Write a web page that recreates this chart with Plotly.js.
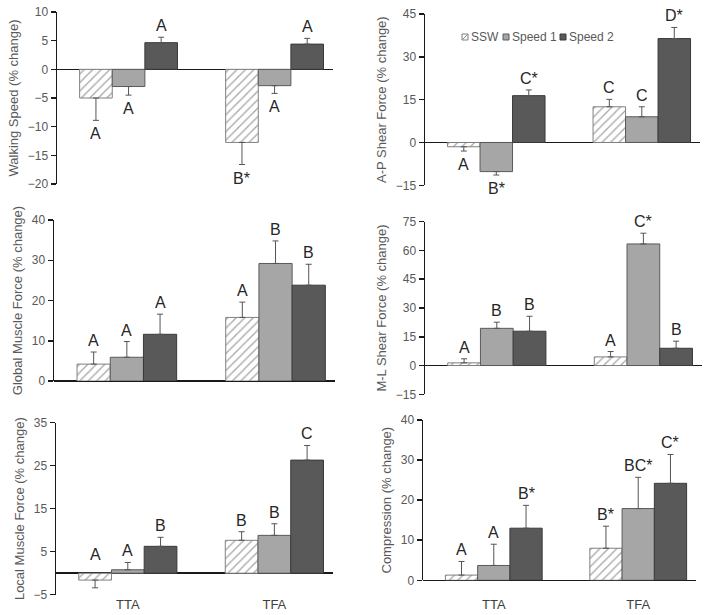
<!DOCTYPE html>
<html><head><meta charset="utf-8">
<script src="https://cdn.plot.ly/plotly-3.0.1.min.js"></script>
<style>html,body{margin:0;padding:0;background:#fff}#chart{width:714px;height:615px}</style>
</head><body><div id="chart"></div>
<script>
// ---------- DATA ----------
const groups = ['TTA', 'TFA'];
const series = ['SSW', 'Speed 1', 'Speed 2'];

// each array: [SSW, Speed 1, Speed 2], inner: [TTA, TFA]
const walkMeans  = [[-5.0, -12.75], [-3.0, -2.85], [4.65, 4.4]];
const walkErrs   = [[3.9, 3.85], [1.5, 1.35], [0.95, 1.0]];
const walkLabels = [['A', 'B*'], ['A', 'A'], ['A', 'A']];

const apMeans  = [[-1.5, 12.5], [-10.2, 9.0], [16.4, 36.4]];
const apErrs   = [[1.5, 2.6], [1.2, 3.5], [2.0, 3.9]];
const apLabels = [['A', 'C'], ['B*', 'C'], ['C*', 'D*']];

const globalMeans  = [[4.2, 15.8], [5.9, 29.2], [11.6, 23.8]];
const globalErrs   = [[3.0, 3.8], [3.9, 5.6], [5.0, 5.2]];
const globalLabels = [['A', 'A'], ['A', 'B'], ['A', 'B']];

const mlMeans  = [[1.4, 4.5], [19.4, 63.4], [17.9, 9.0]];
const mlErrs   = [[2.1, 2.8], [3.2, 5.6], [7.8, 3.7]];
const mlLabels = [['A', 'A'], ['B', 'C*'], ['B', 'B']];

const localMeans  = [[-1.6, 7.65], [0.8, 8.8], [6.25, 26.3]];
const localErrs   = [[1.8, 2.0], [1.7, 2.7], [2.1, 3.4]];
const localLabels = [['A', 'B'], ['A', 'B'], ['B', 'C']];
// negative bar whose letter sits above the zero line in the original
const localLabelAbove = [[true, false], [false, false], [false, false]];

const compMeans  = [[1.3, 8.0], [3.7, 17.9], [13.0, 24.2]];
const compErrs   = [[3.4, 5.5], [5.3, 7.8], [5.7, 7.2]];
const compLabels = [['A', 'B*'], ['A', 'BC*'], ['B*', 'C*']];

const yTitles = ['Walking Speed (% change)', 'A-P Shear Force (% change)', 'Global Muscle Force (% change)',
                 'M-L Shear Force (% change)', 'Local Muscle Force (% change)', 'Compression (% change)'];
const yRanges = [[-20, 10], [-15, 45], [0, 40], [-15, 75], [-5, 35], [0, 40]];
const yTick0  = [-20, -15, 0, -15, -5, 0];
const yDtick  = [5, 15, 10, 15, 10, 10];

// ---------- LAYOUT / STYLE ----------
const W = 714, H = 615;
const panelBoxes = [ // [left, right, top, bottom] in px
  [57, 333, 12, 184], [425, 700, 14, 185.3],
  [54, 335, 220, 381], [425, 702, 221.7, 394.3],
  [56, 333, 422.7, 594.7], [423, 696, 420, 580.3]
];
const panels = [
  [walkMeans, walkErrs, walkLabels, null], [apMeans, apErrs, apLabels, null],
  [globalMeans, globalErrs, globalLabels, null], [mlMeans, mlErrs, mlLabels, null],
  [localMeans, localErrs, localLabels, localLabelAbove], [compMeans, compErrs, compLabels, null]
];
const fillColors = ['#ffffff', '#a6a6a6', '#595959'];
const lineColors = ['#808080', '#5a5a5a', '#3a3a3a'];
const bargap = 0.33;
const xRange = [-0.49, 1.40];
const txtColor = '#595959';
const font = 'Liberation Sans, Arial, sans-serif';

const traces = [];
const annotations = [];
const layout = {
  width: W, height: H, margin: {l: 0, r: 0, t: 0, b: 0},
  paper_bgcolor: '#fff', plot_bgcolor: 'rgba(0,0,0,0)',
  barmode: 'group', bargap: bargap, bargroupgap: 0,
  showlegend: false, font: {family: font, color: txtColor},
  annotations: annotations, shapes: []
};

panels.forEach((p, i) => {
  const [means, errs, labels, above] = p;
  const n = i + 1, sfx = n === 1 ? '' : String(n);
  const box = panelBoxes[i];
  means.forEach((vals, s) => {
    const e = errs[s];
    traces.push({
      type: 'bar', x: [0, 1], y: vals, name: series[s],
      xaxis: 'x' + sfx, yaxis: 'y' + sfx, hoverinfo: 'skip',
      marker: {
        color: fillColors[s],
        line: {color: lineColors[s], width: 1},
        pattern: s === 0 ? {shape: '/', fgcolor: '#a8a8a8', bgcolor: '#ffffff', size: 6, solidity: 0.22} : undefined
      },
      error_y: {
        type: 'data', symmetric: false,
        array: vals.map((v, k) => v >= 0 ? e[k] : 0),
        arrayminus: vals.map((v, k) => v < 0 ? e[k] : 0),
        color: '#555555', thickness: 1, width: 3
      }
    });
    vals.forEach((v, k) => {
      const flipUp = above && above[s][k];
      const pos = v >= 0;
      annotations.push({
        xref: 'x' + sfx, yref: 'y' + sfx,
        x: k + (s - 1) * (1 - bargap) / 3,
        y: flipUp ? 0 : (pos ? v + e[k] : v - e[k]),
        text: labels[s][k], showarrow: false,
        yanchor: (pos || flipUp) ? 'bottom' : 'top',
        yshift: flipUp ? 8 : (pos ? 1 : -3),
        font: {family: font, size: 16, color: '#262626'}
      });
    });
  });
  layout['xaxis' + sfx] = {
    domain: [box[0] / W, box[1] / W], anchor: 'y' + sfx, range: xRange,
    showgrid: false, zeroline: false, showline: false, ticks: '',
    tickvals: [0, 1], ticktext: groups, showticklabels: i >= 4,
    ticklabelstandoff: i === 5 ? 15 : 0,
    tickfont: {family: font, size: 13, color: '#404040'}, fixedrange: true
  };
  layout['yaxis' + sfx] = {
    domain: [1 - box[3] / H, 1 - box[2] / H], anchor: 'x' + sfx,
    range: yRanges[i], tick0: yTick0[i], dtick: yDtick[i], tickmode: 'linear',
    showgrid: false, showline: true, linecolor: '#1a1a1a', linewidth: 1.5,
    ticks: 'outside', ticklen: 5, tickwidth: 1.5, tickcolor: '#1a1a1a',
    zeroline: true, zerolinecolor: '#1a1a1a', zerolinewidth: 1.5,
    tickfont: {family: font, size: 12, color: txtColor},
    title: {text: yTitles[i], font: {family: font, size: 13, color: txtColor}, standoff: 6},
    fixedrange: true
  };
});

// manual legend (compact, like the original)
const legendX = [462, 503, 560], legendY = 37;
series.forEach((name, s) => {
  const x0 = legendX[s];
  layout.shapes.push({type: 'rect', xref: 'paper', yref: 'paper',
    x0: x0 / W, x1: (x0 + 6) / W, y0: 1 - (legendY + 3) / H, y1: 1 - (legendY - 3) / H,
    fillcolor: fillColors[s], line: {color: lineColors[s], width: 1}});
  if (s === 0) {
    layout.shapes.push({type: 'line', xref: 'paper', yref: 'paper',
      x0: x0 / W, x1: (x0 + 6) / W, y0: 1 - (legendY + 3) / H, y1: 1 - (legendY - 3) / H,
      line: {color: '#8a8a8a', width: 1}});
  }
  annotations.push({xref: 'paper', yref: 'paper', x: (x0 + 7) / W, y: 1 - legendY / H,
    xanchor: 'left', yanchor: 'middle', text: name, showarrow: false,
    font: {family: font, size: 12, color: txtColor}});
});

Plotly.newPlot('chart', traces, layout, {staticPlot: true, displayModeBar: false});
</script>
</body></html>
